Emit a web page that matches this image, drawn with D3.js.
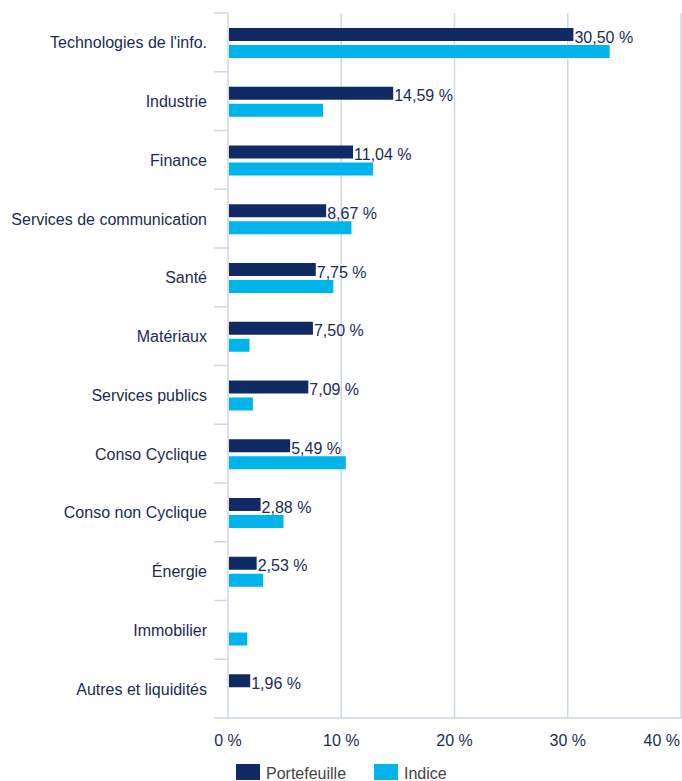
<!DOCTYPE html>
<html><head><meta charset="utf-8">
<script src="https://cdn.jsdelivr.net/npm/d3@7"></script>
<style>
body{margin:0;background:#fff;}
svg{display:block;font-family:"Liberation Sans",Arial,sans-serif;}
</style></head><body>
<svg id="c" width="682" height="781"></svg>
<script>
const categories = ["Technologies de l'info.","Industrie","Finance","Services de communication","Santé","Matériaux","Services publics","Conso Cyclique","Conso non Cyclique","Énergie","Immobilier","Autres et liquidités"];
const portefeuille = [30.50,14.59,11.04,8.67,7.75,7.50,7.09,5.49,2.88,2.53,null,1.96];
const indice = [33.7,8.4,12.8,10.9,9.3,1.9,2.2,10.4,4.9,3.1,1.7,null];
const xTicks = [0,10,20,30,40];
const seriesNames = ["Portefeuille","Indice"];
const colors = ["#112a63","#00b4ea"];

const svg = d3.select("#c");
const x0 = 228, x1 = 681, yTop = 13, yBot = 718;
const x = d3.scaleLinear().domain([0,40]).range([x0,x1]);
const y = d3.scaleBand().domain(categories).range([yTop,yBot]);
const bw = y.bandwidth();
const barH = 13;
const grid = "#cdd7e5";
const txt = "#1b2b55";
const fs = 16;

svg.append("g").selectAll("line").data(xTicks.slice(1)).join("line")
  .attr("x1",d=>x(d)).attr("x2",d=>x(d)).attr("y1",yTop).attr("y2",yBot)
  .attr("stroke",grid).attr("stroke-width",1.5);

svg.append("line").attr("x1",x0).attr("x2",x0).attr("y1",yTop).attr("y2",yBot).attr("stroke",grid).attr("stroke-width",1.5);
const bounds = categories.map(c=>y(c));
svg.append("g").selectAll("line").data(bounds).join("line")
  .attr("x1",214).attr("x2",x0).attr("y1",d=>d).attr("y2",d=>d)
  .attr("stroke",grid).attr("stroke-width",1.5);
svg.append("line").attr("x1",214).attr("x2",682).attr("y1",yBot).attr("y2",yBot).attr("stroke",grid).attr("stroke-width",1.5);

svg.append("g").selectAll("text").data(categories).join("text")
  .attr("x",207).attr("y",d=>y(d)+bw/2+6).attr("text-anchor","end")
  .attr("font-size",fs).attr("fill",txt).text(d=>d);

svg.append("g").selectAll("text").data(xTicks).join("text")
  .attr("x",(d,i)=>i===xTicks.length-1 ? 680 : x(d)).attr("y",746)
  .attr("text-anchor",(d,i)=>i===xTicks.length-1 ? "end" : "middle")
  .attr("font-size",fs).attr("fill",txt).text(d=>d+" %");

const off = [15,32];
[portefeuille,indice].forEach((vals,si)=>{
  const data = categories.map((c,i)=>({c,v:vals[i]})).filter(d=>d.v!=null);
  svg.append("g").selectAll("rect").data(data).join("rect")
    .attr("x",x(0)+1).attr("y",d=>y(d.c)+off[si]).attr("width",d=>x(d.v)-x(0)-1).attr("height",barH)
    .attr("fill",colors[si]);
  if(si===0){
    svg.append("g").selectAll("text").data(data).join("text")
      .attr("x",d=>x(d.v)+1).attr("y",d=>y(d.c)+off[si]+barH+1.5)
      .attr("font-size",fs).attr("fill",txt)
      .text(d=>d3.format(".2f")(d.v).replace(".",",")+" %");
  }
});

const lg = [{n:seriesNames[0],x:236},{n:seriesNames[1],x:374}];
lg.forEach((l,i)=>{
  svg.append("rect").attr("x",l.x).attr("y",764).attr("width",24).attr("height",16).attr("fill",colors[i]);
  svg.append("text").attr("x",l.x+30).attr("y",779).attr("font-size",fs).attr("fill","#444").text(l.n);
});
</script></body></html>
